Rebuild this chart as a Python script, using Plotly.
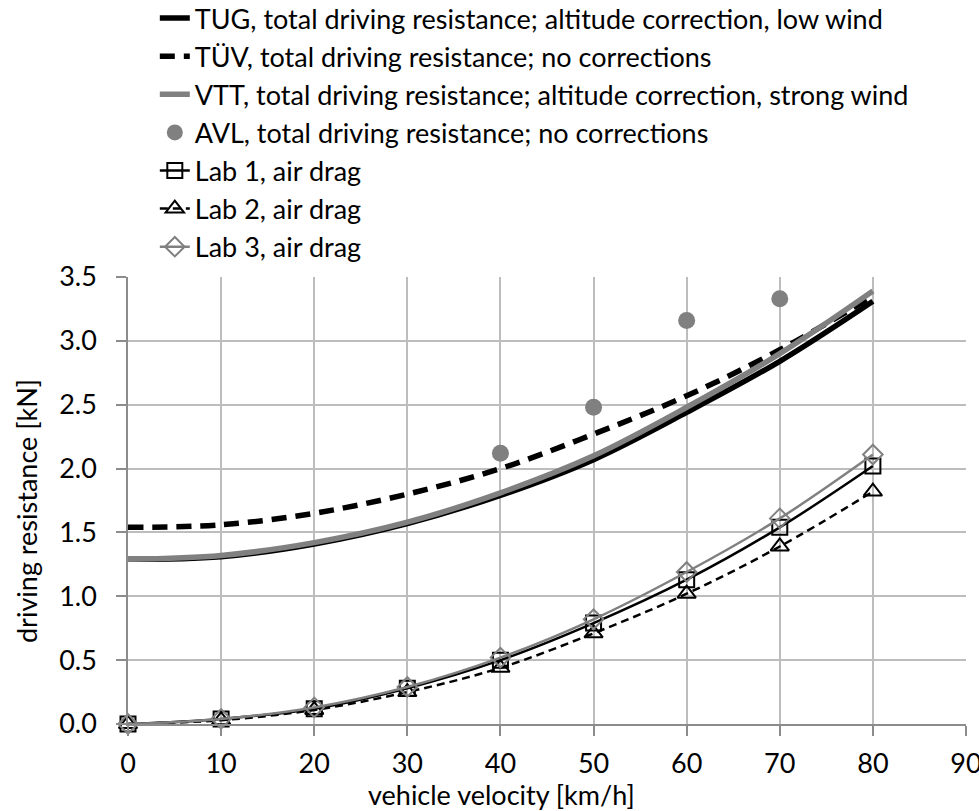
import plotly.graph_objects as go

# vehicle velocity [km/h]
velocity = [0, 10, 20, 30, 40, 50, 60, 70, 80]

# total driving resistance [kN]
tug_total = [1.29, 1.31, 1.41, 1.57, 1.79, 2.07, 2.44, 2.84, 3.31]
tuv_total = [1.54, 1.56, 1.65, 1.80, 2.00, 2.27, 2.57, 2.93, 3.35]
vtt_total = [1.29, 1.32, 1.42, 1.58, 1.81, 2.10, 2.48, 2.90, 3.39]

# AVL measured points
avl_velocity = [40, 50, 60, 70]
avl_total = [2.12, 2.48, 3.16, 3.33]

# air drag [kN]
lab1_drag = [0.0, 0.04, 0.12, 0.28, 0.50, 0.79, 1.13, 1.54, 2.02]
lab2_drag = [0.0, 0.03, 0.11, 0.25, 0.44, 0.71, 1.02, 1.39, 1.82]
lab3_drag = [0.0, 0.04, 0.13, 0.29, 0.52, 0.82, 1.19, 1.61, 2.11]

FONT = "Lato"
FS = 27
BLACK = "#000000"
GREY = "#808080"
GRID = "#BDBDBD"
AXIS = "#8C8C8C"

fig = go.Figure()

fig.add_trace(go.Scatter(
    x=velocity, y=tug_total, mode="lines", line_shape="spline",
    line=dict(color=BLACK, width=5.5),
    name="TUG, total driving resistance; altitude correction, low wind"))
fig.add_trace(go.Scatter(
    x=velocity, y=tuv_total, mode="lines", line_shape="spline",
    line=dict(color=BLACK, width=5.5, dash="15px,9px"),
    name="TÜV, total driving resistance; no corrections"))
fig.add_trace(go.Scatter(
    x=velocity, y=vtt_total, mode="lines", line_shape="spline",
    line=dict(color=GREY, width=5.5),
    name="VTT, total driving resistance; altitude correction, strong wind"))
fig.add_trace(go.Scatter(
    x=avl_velocity, y=avl_total, mode="markers",
    marker=dict(color=GREY, size=17, symbol="circle"),
    name="AVL, total driving resistance; no corrections"))
fig.add_trace(go.Scatter(
    x=velocity, y=lab1_drag, mode="lines+markers", line_shape="spline",
    line=dict(color=BLACK, width=2.5), cliponaxis=False,
    marker=dict(symbol="square-open", size=15, color=BLACK, line=dict(width=2)),
    name="Lab 1, air drag"))
fig.add_trace(go.Scatter(
    x=velocity, y=lab2_drag, mode="lines+markers", line_shape="spline",
    line=dict(color=BLACK, width=2.5, dash="8px,5px"), cliponaxis=False,
    marker=dict(symbol="triangle-up-open", size=16, color=BLACK, line=dict(width=2)),
    name="Lab 2, air drag"))
fig.add_trace(go.Scatter(
    x=velocity, y=lab3_drag, mode="lines+markers", line_shape="spline",
    line=dict(color=GREY, width=2.5), cliponaxis=False,
    marker=dict(symbol="diamond-open", size=15, color=GREY, line=dict(width=2)),
    name="Lab 3, air drag"))

fig.update_layout(
    width=979, height=811,
    margin=dict(l=128, r=13, t=277, b=87, autoexpand=False),
    paper_bgcolor="white", plot_bgcolor="white",
    font=dict(family=FONT, size=FS, color=BLACK),
    showlegend=True,
    legend=dict(
        x=0.032, y=1.633, xanchor="left", yanchor="top",
        font=dict(family=FONT, size=FS, color=BLACK),
        bgcolor="rgba(0,0,0,0)", tracegroupgap=0,
        itemwidth=30,
    ),
    annotations=[
        dict(text="vehicle velocity [km/h]", xref="paper", yref="paper",
             x=0.446, y=-0.157, xanchor="center", yanchor="middle",
             showarrow=False, font=dict(family=FONT, size=FS, color=BLACK)),
        dict(text="driving resistance [kN]", xref="paper", yref="paper",
             x=-0.1217, y=0.4765, xanchor="center", yanchor="middle",
             textangle=-90, showarrow=False,
             font=dict(family=FONT, size=FS, color=BLACK)),
    ],
)

fig.update_xaxes(
    range=[0, 90], dtick=10, tick0=0,
    showgrid=True, gridcolor=GRID, gridwidth=1.5,
    showline=True, linecolor=AXIS, linewidth=1.5,
    ticks="outside", ticklen=10, tickcolor=AXIS, tickwidth=1.5,
    ticklabelstandoff=5, ticklabeloverflow="allow",
    zeroline=False, automargin=False,
    tickfont=dict(family=FONT, size=FS),
)
fig.update_yaxes(
    range=[0, 3.5], dtick=0.5, tick0=0, tickformat=".1f",
    showgrid=True, gridcolor=GRID, gridwidth=1.5,
    showline=True, linecolor=AXIS, linewidth=1.5,
    ticks="outside", ticklen=10, tickcolor=AXIS, tickwidth=1.5,
    ticklabelstandoff=14, ticklabeloverflow="allow",
    zeroline=False, automargin=False,
    tickfont=dict(family=FONT, size=FS),
)

fig.write_html("out.html")
